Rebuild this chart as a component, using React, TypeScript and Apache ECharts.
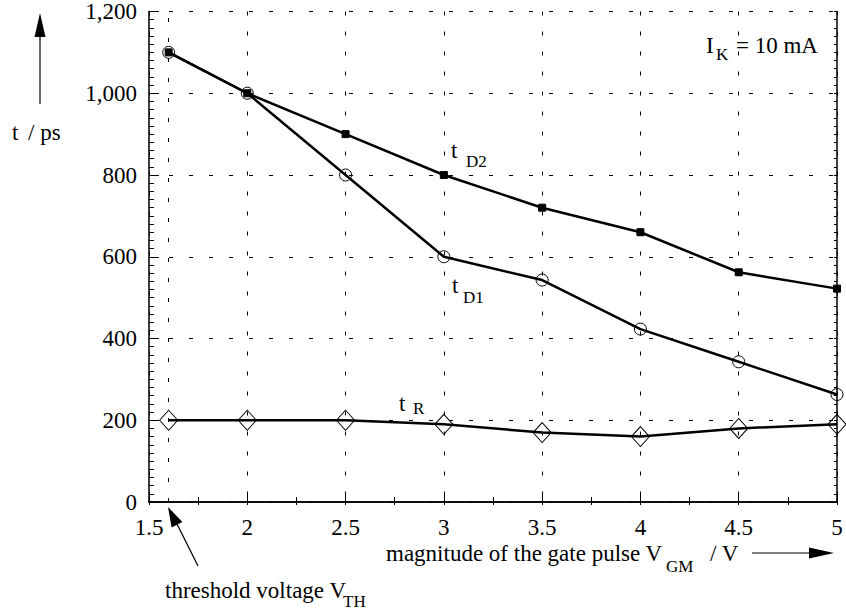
import React, { useEffect, useRef } from "react";
import * as echarts from "echarts";

const xValues = [1.6, 2, 2.5, 3, 3.5, 4, 4.5, 5];
const tD2 = [1100, 1000, 900, 800, 720, 660, 562, 522];
const tD1 = [1100, 1000, 800, 600, 543, 423, 343, 263];
const tR = [200, 200, 200, 190, 170, 160, 180, 190];
const thresholdVoltage = 1.6;

const FONT = "'Liberation Serif', 'Times New Roman', 'DejaVu Serif', serif";
const FS = 23;
const SUB = 17;

function pairs(ys: number[]) {
  return xValues.map((x, i) => [x, ys[i]]);
}

export default function App() {
  const ref = useRef<HTMLDivElement>(null);
  useEffect(() => {
    if (!ref.current) return;
    const chart = echarts.init(ref.current, null, { renderer: "svg" });
    const dash = { color: "#000", width: 1, type: [4, 16] as any };
    const txt = (x: number, y: number, text: string, size = FS, align = "left") => ({
      type: "text",
      x,
      y,
      style: { text, fontFamily: FONT, fontSize: size, fill: "#000", textAlign: align, textVerticalAlign: "middle" },
    });
    const lineSeries = (name: string, data: number[], symbol: string, size: any, filled: boolean, extra: any = {}) => ({
      name,
      type: "line",
      data: pairs(data),
      symbol,
      symbolSize: size,
      showAllSymbol: true,
      lineStyle: { color: "#000", width: 2.5 },
      itemStyle: filled
        ? { color: "#000", borderColor: "#000", borderWidth: 1 }
        : { color: "transparent", borderColor: "#000", borderWidth: 1 },
      emphasis: { disabled: true },
      ...extra,
    });
    chart.setOption({
      animation: false,
      backgroundColor: "#fff",
      textStyle: { fontFamily: FONT },
      grid: { left: 149, top: 9, width: 688, height: 493, containLabel: false },
      xAxis: [
        {
          type: "value",
          min: 1.5,
          max: 5,
          interval: 0.5,
          axisLine: { show: true, lineStyle: { color: "#000", width: 1.5 } },
          axisTick: { show: true, inside: true, length: 10, lineStyle: { color: "#000", width: 1 } },
          minorTick: { show: true, splitNumber: 2, length: 5, lineStyle: { color: "#000", width: 1 } },
          axisLabel: { color: "#000", fontFamily: FONT, fontSize: FS, margin: 14 },
          splitLine: { show: true, lineStyle: dash },
        },
        {
          type: "value",
          position: "top",
          min: 1.5,
          max: 5,
          interval: 0.5,
          axisLine: { show: true, lineStyle: { color: "#000", width: 1.5 } },
          axisTick: { show: true, inside: true, length: 3, lineStyle: { color: "#000", width: 1 } },
          minorTick: { show: true, splitNumber: 2, length: 3, lineStyle: { color: "#000", width: 1 } },
          axisLabel: { show: false },
          splitLine: { show: false },
        },
      ],
      yAxis: [
        {
          type: "value",
          min: 0,
          max: 1200,
          interval: 200,
          axisLine: { show: true, lineStyle: { color: "#000", width: 1.5 } },
          axisTick: { show: true, inside: true, length: 10, lineStyle: { color: "#000", width: 1 } },
          minorTick: { show: true, splitNumber: 10, length: 5, lineStyle: { color: "#000", width: 1 } },
          axisLabel: {
            color: "#000",
            fontFamily: FONT,
            fontSize: FS,
            margin: 12,
            padding: [14, 0, 0, 0],
            formatter: (v: number) => v.toLocaleString("en-US"),
          },
          splitLine: { show: true, lineStyle: dash },
        },
        {
          type: "value",
          position: "right",
          min: 0,
          max: 1200,
          interval: 200,
          axisLine: { show: true, lineStyle: { color: "#000", width: 1.5 } },
          axisTick: { show: true, inside: true, length: 3, lineStyle: { color: "#000", width: 1 } },
          minorTick: { show: true, splitNumber: 10, length: 3, lineStyle: { color: "#000", width: 1 } },
          axisLabel: { show: false },
          splitLine: { show: false },
        },
      ],
      series: [
        lineSeries("tR", tR, "diamond", [18, 20], false, {
          markLine: {
            silent: true,
            symbol: "none",
            label: { show: false },
            lineStyle: { color: "#000", width: 1, type: [4, 16] },
            data: [{ xAxis: thresholdVoltage }],
          },
        }),
        lineSeries("tD1", tD1, "circle", 12, false),
        lineSeries("tD2", tD2, "rect", 7, true),
      ],
      graphic: [
        // y axis name and arrow
        txt(12, 132, "t"),
        txt(28, 132, "/ ps"),
        { type: "line", shape: { x1: 40, y1: 104, x2: 40, y2: 34 }, style: { stroke: "#000", lineWidth: 1.2 } },
        { type: "polygon", shape: { points: [[40, 13], [34.5, 37], [45.5, 37]] }, style: { fill: "#000" } },
        // x axis name and arrow
        txt(386, 553, "magnitude of the gate pulse V"),
        txt(666, 566, "GM", SUB),
        txt(710, 553, "/ V"),
        { type: "line", shape: { x1: 752, y1: 553, x2: 812, y2: 553 }, style: { stroke: "#000", lineWidth: 1.2 } },
        { type: "polygon", shape: { points: [[834, 553], [809, 547.5], [809, 558.5]] }, style: { fill: "#000" } },
        // threshold annotation
        txt(165, 590, "threshold voltage V"),
        txt(343, 601, "TH", SUB),
        { type: "line", shape: { x1: 198, y1: 566, x2: 177, y2: 524 }, style: { stroke: "#000", lineWidth: 1.2 } },
        { type: "polygon", shape: { points: [[168, 507], [182.4, 522], [171.6, 527.6]] }, style: { fill: "#000" } },
        // condition
        txt(706, 45, "I"),
        txt(716, 54, "K", SUB),
        txt(736, 45, "= 10 mA"),
        // series labels
        txt(451, 150, "t"),
        txt(466, 161, "D2", SUB),
        txt(452, 285, "t"),
        txt(463, 297, "D1", SUB),
        txt(399, 403, "t"),
        txt(413, 408, "R", SUB),
      ],
    });
    return () => chart.dispose();
  }, []);
  return (
    <div
      ref={ref}
      style={{ position: "fixed", left: 0, top: 0, width: 846, height: 615, background: "#fff" }}
    />
  );
}
